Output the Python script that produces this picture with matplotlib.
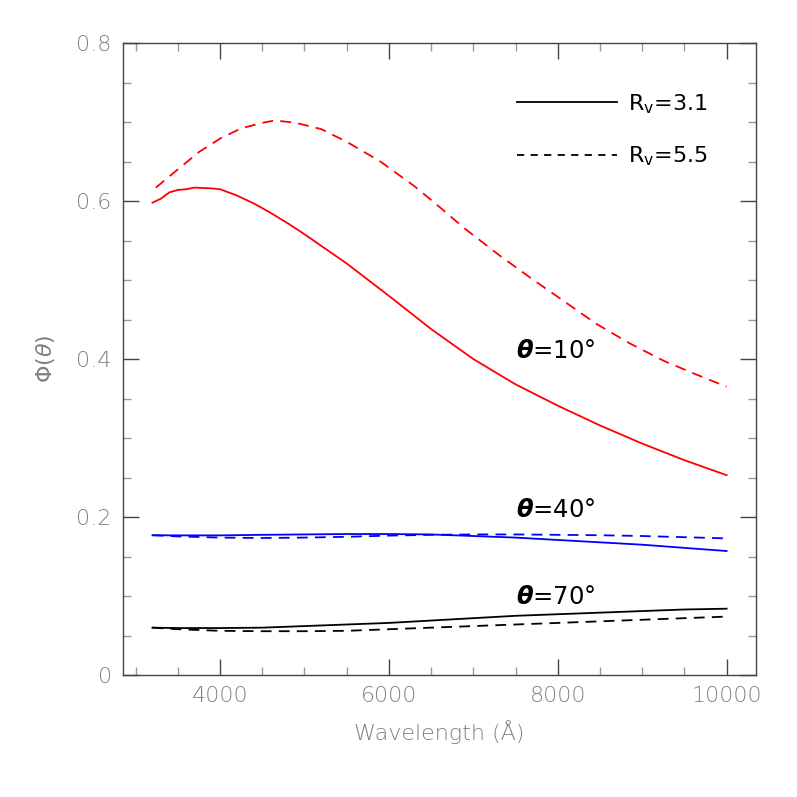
import numpy as np
import matplotlib
matplotlib.use("Agg")
import matplotlib.pyplot as plt
from matplotlib.lines import Line2D
from matplotlib.ticker import MultipleLocator

# valores
wl_r31_red = [3200, 3300, 3400, 3500, 3600, 3700, 3800, 3900, 4000, 4200, 4400, 4600,
              4800, 5000, 5500, 6000, 6500, 7000, 7500, 8000, 8500, 9000, 9500, 10000]
phi_r31_red = [0.598, 0.603, 0.611, 0.614, 0.615, 0.617, 0.6165, 0.616, 0.615, 0.607, 0.597, 0.585,
               0.572, 0.558, 0.521, 0.480, 0.438, 0.400, 0.368, 0.341, 0.316, 0.293, 0.272, 0.253]

wl_r55_red = [3240, 3500, 3750, 4000, 4250, 4500, 4650, 4900, 5200, 5500, 5900, 6300,
              6550, 6900, 7300, 7700, 8050, 8450, 8850, 9250, 9650, 10000]
phi_r55_red = [0.617, 0.640, 0.662, 0.679, 0.692, 0.699, 0.702, 0.699, 0.691, 0.675, 0.650, 0.619,
               0.597, 0.565, 0.532, 0.501, 0.475, 0.445, 0.420, 0.398, 0.380, 0.365]

wl = [3200, 3500, 4000, 4500, 5000, 5500, 6000, 6500, 7000, 7500, 8000, 8500, 9000, 9500, 10000]
phi_r31_blue = [0.177, 0.1768, 0.1768, 0.1775, 0.178, 0.1785, 0.1785, 0.178, 0.176, 0.174,
                0.171, 0.168, 0.165, 0.161, 0.157]
phi_r55_blue = [0.177, 0.1755, 0.174, 0.1735, 0.174, 0.175, 0.1765, 0.1775, 0.178, 0.178,
                0.1775, 0.177, 0.176, 0.1745, 0.173]
phi_r31_black = [0.060, 0.0595, 0.0595, 0.060, 0.062, 0.064, 0.066, 0.069, 0.072, 0.075,
                 0.077, 0.079, 0.081, 0.083, 0.084]
phi_r55_black = [0.060, 0.058, 0.056, 0.0555, 0.0555, 0.056, 0.058, 0.060, 0.062, 0.064,
                 0.066, 0.068, 0.070, 0.072, 0.074]

etiquetas = [r'$\mathbfit{\theta}$=10°', r'$\mathbfit{\theta}$=40°', r'$\mathbfit{\theta}$=70°']
etiq_y = [0.41, 0.209, 0.099]

gris = '#808080'
fig = plt.figure(figsize=(7.97, 7.97), dpi=100)
ax = fig.add_axes([0.154, 0.153, 0.795, 0.793])

lw = 1.3
ax.plot(wl_r31_red, phi_r31_red, color='red', lw=lw)
ax.plot(wl_r55_red, phi_r55_red, color='red', lw=lw, dashes=(6, 4))
ax.plot(wl, phi_r31_blue, color='blue', lw=lw)
ax.plot(wl, phi_r55_blue, color='blue', lw=lw, dashes=(6, 4))
ax.plot(wl, phi_r31_black, color='black', lw=lw)
ax.plot(wl, phi_r55_black, color='black', lw=lw, dashes=(6, 4))

for t, yy in zip(etiquetas, etiq_y):
    ax.text(7500, yy, t, fontsize=17.5, ha='left', va='center', color='black')

ax.set_xlim(2848, 10352)
ax.set_ylim(0, 0.8)
ax.xaxis.set_major_locator(MultipleLocator(2000))
ax.xaxis.set_minor_locator(MultipleLocator(500))
ax.set_yticks([0, 0.2, 0.4, 0.6, 0.8])
ax.set_yticklabels(['0', '0.2', '0.4', '0.6', '0.8'])
ax.yaxis.set_minor_locator(MultipleLocator(0.05))

ax.tick_params(which='both', direction='in', top=True, right=True)
ax.tick_params(which='major', length=11.5, width=1.0, color='#444444',
               labelsize=16, labelcolor=gris, pad=8)
ax.tick_params(which='minor', length=5.8, width=1.0, color='#999999')
for lab in ax.get_xticklabels() + ax.get_yticklabels():
    lab.set_fontweight('light')
for s in ax.spines.values():
    s.set_color('#444444')
    s.set_linewidth(1.0)

ax.set_xlabel('Wavelength (Å)', fontsize=16, color=gris, labelpad=10, fontweight='light')
ax.set_ylabel(r'$\Phi(\theta)$', fontsize=16, color=gris, labelpad=14)

handles = [Line2D([], [], color='black', lw=lw),
           Line2D([], [], color='black', lw=lw, dashes=(4, 3.5))]
ax.legend(handles, [r'R$_{\rm v}$=3.1', r'R$_{\rm v}$=5.5'], loc='upper right',
          frameon=False, fontsize=16, handlelength=4.5, handletextpad=0.5,
          labelspacing=1.3, borderaxespad=1.8)

fig.savefig('out.png', dpi=100)
